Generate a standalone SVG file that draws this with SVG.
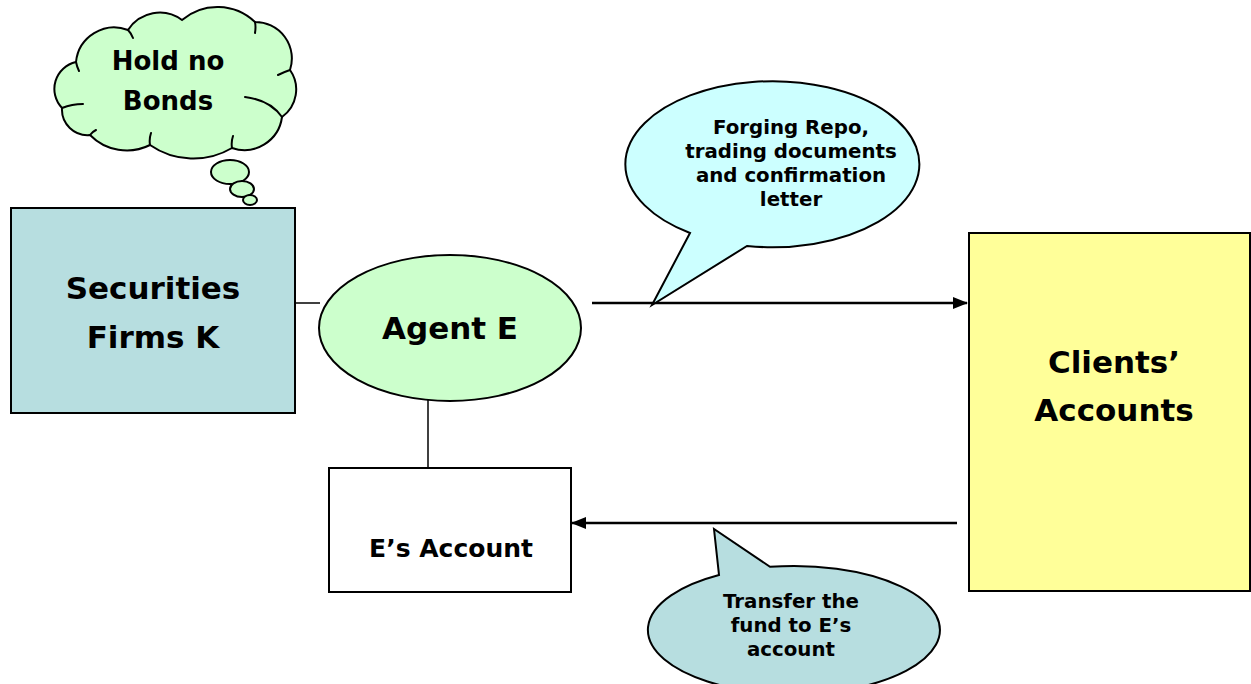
<svg xmlns="http://www.w3.org/2000/svg" width="1251" height="684" viewBox="0 0 1251 684">
<style>
  text { font-family: "DejaVu Sans", Verdana, sans-serif; font-weight: bold; fill: #000; text-anchor: middle; }
  .big { font-size: 31px; }
  .mid { font-size: 25px; }
  .cloud { font-size: 26px; }
  .small { font-size: 19.8px; }
  .shape { stroke: #000; stroke-width: 2; }
  .thin { stroke: #000; stroke-width: 1.5; fill: none; }
  .curl { stroke: #000; stroke-width: 2; fill: none; stroke-linecap: round; }
  .arrow { stroke: #000; stroke-width: 2.4; fill: none; }
</style>
<defs>
  <marker id="ah" markerWidth="15" markerHeight="12" refX="14" refY="6" orient="auto" markerUnits="userSpaceOnUse">
    <path d="M0,0 L15,6 L0,12 Z" fill="#000"/>
  </marker>
</defs>
<rect width="1251" height="684" fill="#fff"/>

<g id="connectors">
  <line class="thin" x1="295" y1="303" x2="320" y2="303"/>
  <line class="thin" x1="428" y1="400" x2="428" y2="468"/>
  <line class="arrow" x1="592" y1="303" x2="967" y2="303" marker-end="url(#ah)"/>
  <line class="arrow" x1="957" y1="523" x2="572" y2="523" marker-end="url(#ah)"/>
</g>

<g id="securities">
  <rect class="shape" x="11" y="208" width="284" height="205" fill="#b7dee0"/>
  <text class="big" x="153" y="299">Securities</text>
  <text class="big" x="153" y="348">Firms K</text>
</g>

<g id="agent">
  <ellipse class="shape" cx="450" cy="328" rx="131" ry="73" fill="#ccffcc"/>
  <text class="big" x="450" y="339">Agent E</text>
</g>

<g id="eaccount">
  <rect class="shape" x="329" y="468" width="242" height="124" fill="#fff"/>
  <text class="mid" x="451" y="557">E’s Account</text>
</g>

<g id="clients">
  <rect class="shape" x="969" y="233" width="281" height="358" fill="#ffff99"/>
  <text class="big" x="1114" y="373">Clients’</text>
  <text class="big" x="1114" y="421">Accounts</text>
</g>

<g id="thought">
  <path class="shape" fill="#ccffcc" d="M62,108 A27.6,27.6 0 0 1 76,62 A38.5,38.5 0 0 1 128,30 A37.5,37.5 0 0 1 182,20 A54.6,54.6 0 0 1 255,22 A36.5,36.5 0 0 1 290,70 A33.8,33.8 0 0 1 282,117 A38,38 0 0 1 232,148 A76,76 0 0 1 150,145 A51.5,51.5 0 0 1 90,135 A25.6,25.6 0 0 1 62,108 Z"/>
  <path class="curl" d="M62,108 Q72,104 83,104 M76,62 Q77,67 79,71 M128,30 Q131,33 133,38 M255,22 Q256,27 255,33 M290,70 Q284,72 278,75 M282,117 Q270,100 245,97 M232,148 Q231,142 233,136 M150,145 Q149,139 151,133 M90,135 Q92,132 96,130"/>
  <ellipse class="shape" cx="230" cy="172" rx="19" ry="12" fill="#ccffcc"/>
  <ellipse class="shape" cx="242" cy="189" rx="12" ry="8" fill="#ccffcc"/>
  <ellipse class="shape" cx="250" cy="200" rx="7" ry="5" fill="#ccffcc"/>
  <text class="cloud" x="168" y="70">Hold no</text>
  <text class="cloud" x="168" y="110">Bonds</text>
</g>

<g id="callout-forging">
  <path class="shape" fill="#ccffff" d="M747,246 A147,83 0 1 0 690,233 L652,305 Z"/>
  <text class="small" x="791" y="134">Forging Repo,</text>
  <text class="small" x="791" y="158">trading documents</text>
  <text class="small" x="791" y="182">and confirmation</text>
  <text class="small" x="791" y="206">letter</text>
</g>

<g id="callout-transfer">
  <path class="shape" fill="#b7dee0" d="M770,566.8 A146,64 0 1 1 719,575 L714,529 Z"/>
  <text class="small" x="791" y="608">Transfer the</text>
  <text class="small" x="791" y="632">fund to E’s</text>
  <text class="small" x="791" y="656">account</text>
</g>
</svg>
